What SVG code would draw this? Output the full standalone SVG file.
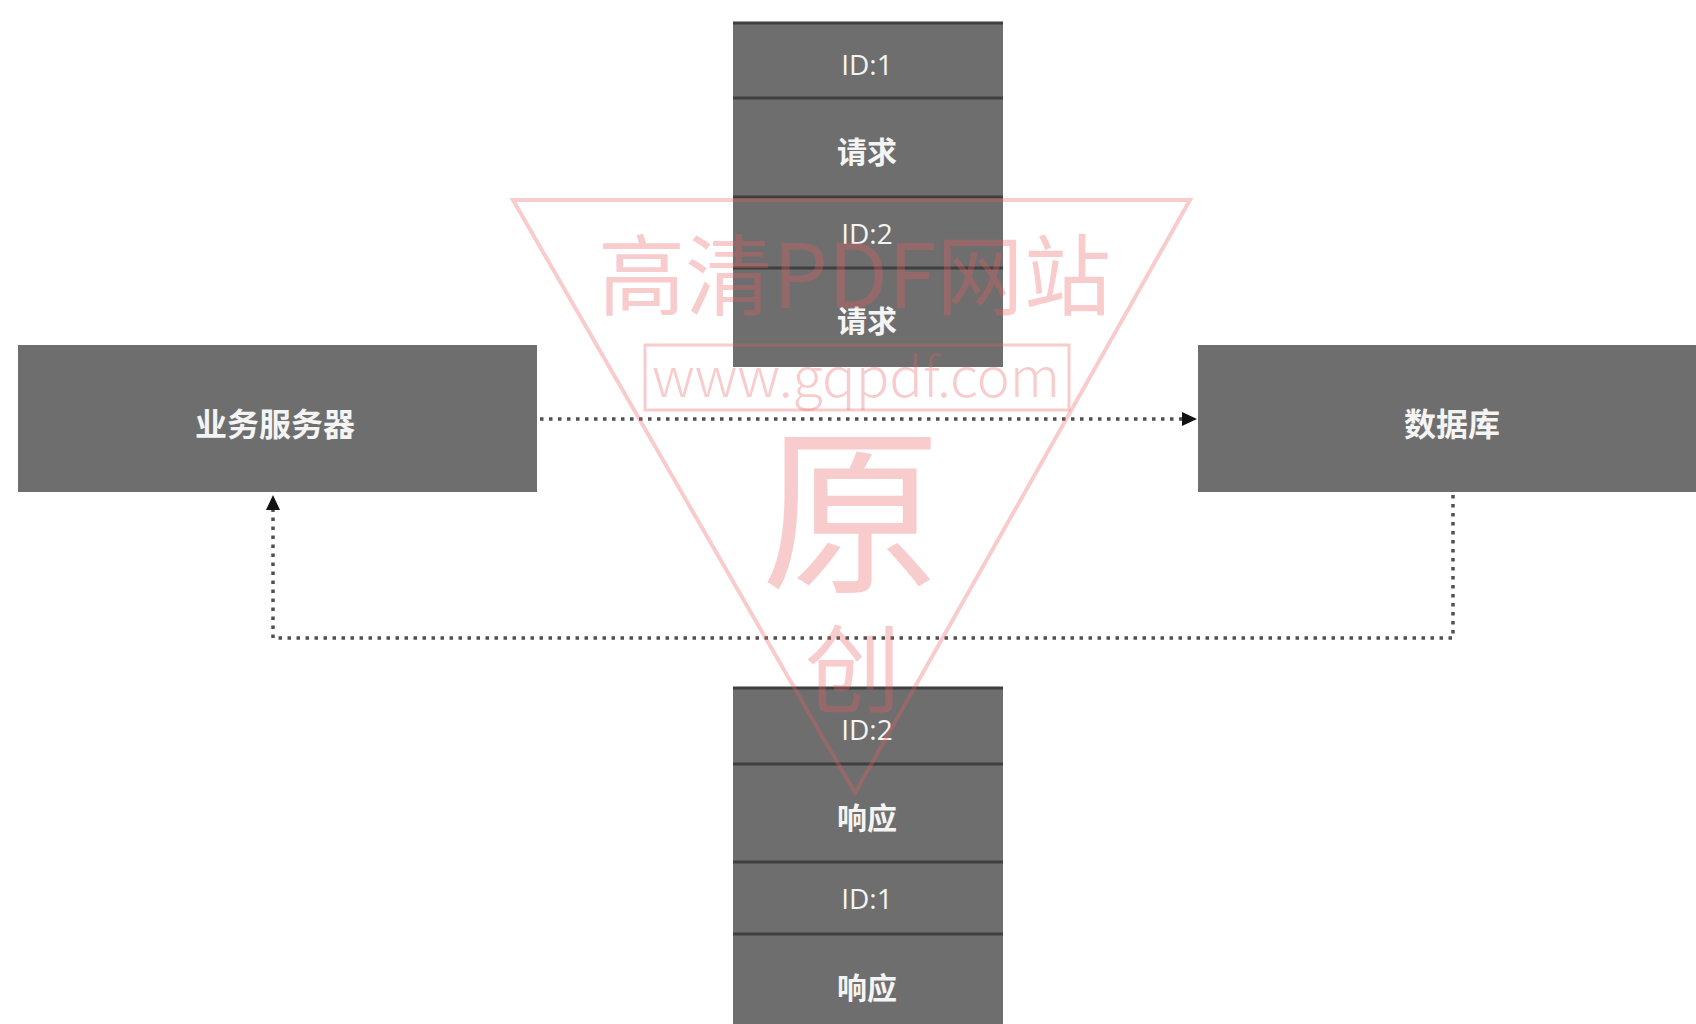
<svg xmlns="http://www.w3.org/2000/svg" width="1696" height="1024" viewBox="0 0 1696 1024">
  <defs>
    <style>
      .box { fill: #6e6e6e; }
      .div { stroke: #3f3f3f; stroke-width: 3; }
      .lbl { fill: #f4f4f4; font-family: "Open Sans", "Noto Sans CJK SC", sans-serif; text-anchor: middle; dominant-baseline: central; }
      .id { font-size: 28px; }
      .cn { font-size: 30px; font-weight: bold; font-family: "Noto Sans CJK SC", sans-serif; }
      .big { font-size: 32px; font-weight: bold; font-family: "Noto Sans CJK SC", sans-serif; }
      .conn { fill: none; stroke: #505050; stroke-width: 3.5; stroke-dasharray: 3.5 5.5; }
      .wm { fill: rgb(232,96,96); fill-opacity: 0.32; font-family: "Noto Sans CJK SC", "Noto Sans", sans-serif; }
      .wml { fill: none; stroke: rgb(232,96,96); stroke-opacity: 0.32; }
    </style>
    <marker id="arr" markerUnits="userSpaceOnUse" markerWidth="16" markerHeight="16" refX="15" refY="8" orient="auto">
      <path d="M0,1 L15,8 L0,15 Z" fill="#111"/>
    </marker>
  </defs>
  <rect width="1696" height="1024" fill="#ffffff"/>

  <g id="biz-server">
    <rect class="box" x="18" y="345" width="519" height="147"/>
    <text class="lbl big" x="275" y="422">业务服务器</text>
  </g>

  <g id="database">
    <rect class="box" x="1198" y="345" width="510" height="147"/>
    <text class="lbl big" x="1452" y="422">数据库</text>
  </g>

  <g id="request-stack">
    <rect class="box" x="733" y="23" width="270" height="344"/>
    <line class="div" x1="733" y1="23" x2="1003" y2="23"/>
    <line class="div" x1="733" y1="98" x2="1003" y2="98"/>
    <line class="div" x1="733" y1="197" x2="1003" y2="197"/>
    <line class="div" x1="733" y1="268" x2="1003" y2="268"/>
    <text class="lbl id" x="867" y="64">ID:1</text>
    <text class="lbl cn" x="867" y="150">请求</text>
    <text class="lbl id" x="867" y="233">ID:2</text>
    <text class="lbl cn" x="867" y="319">请求</text>
  </g>

  <g id="response-stack">
    <rect class="box" x="733" y="688" width="270" height="340"/>
    <line class="div" x1="733" y1="688" x2="1003" y2="688"/>
    <line class="div" x1="733" y1="764" x2="1003" y2="764"/>
    <line class="div" x1="733" y1="862" x2="1003" y2="862"/>
    <line class="div" x1="733" y1="934" x2="1003" y2="934"/>
    <text class="lbl id" x="867" y="729">ID:2</text>
    <text class="lbl cn" x="867" y="816">响应</text>
    <text class="lbl id" x="867" y="898">ID:1</text>
    <text class="lbl cn" x="867" y="986">响应</text>
  </g>

  <g id="connectors">
    <path class="conn" d="M540 419 H1184"/>
    <path d="M1196 419 H1197" stroke="none" marker-end="url(#arr)"/>
    <path class="conn" d="M1453 495 V638 H273 V508"/>
    <path d="M273 496 V495" stroke="none" marker-end="url(#arr)"/>
  </g>

  <g id="watermark">
    <path class="wml" stroke-width="4" d="M513 200 H1190 L855 793 Z"/>
    <rect class="wml" stroke-width="3" x="645" y="345" width="424" height="65"/>
    <text class="wm" x="598" y="308" font-size="88" textLength="513" lengthAdjust="spacingAndGlyphs">高清PDF网站</text>
    <text class="wm" x="652" y="397" font-size="54" textLength="408" lengthAdjust="spacingAndGlyphs" font-family="Noto Sans, sans-serif" style="font-weight:300">www.gqpdf.com</text>
    <text class="wm" x="851" y="578" font-size="180" text-anchor="middle">原</text>
    <text class="wm" x="853" y="705" font-size="96" text-anchor="middle">创</text>
  </g>
</svg>
